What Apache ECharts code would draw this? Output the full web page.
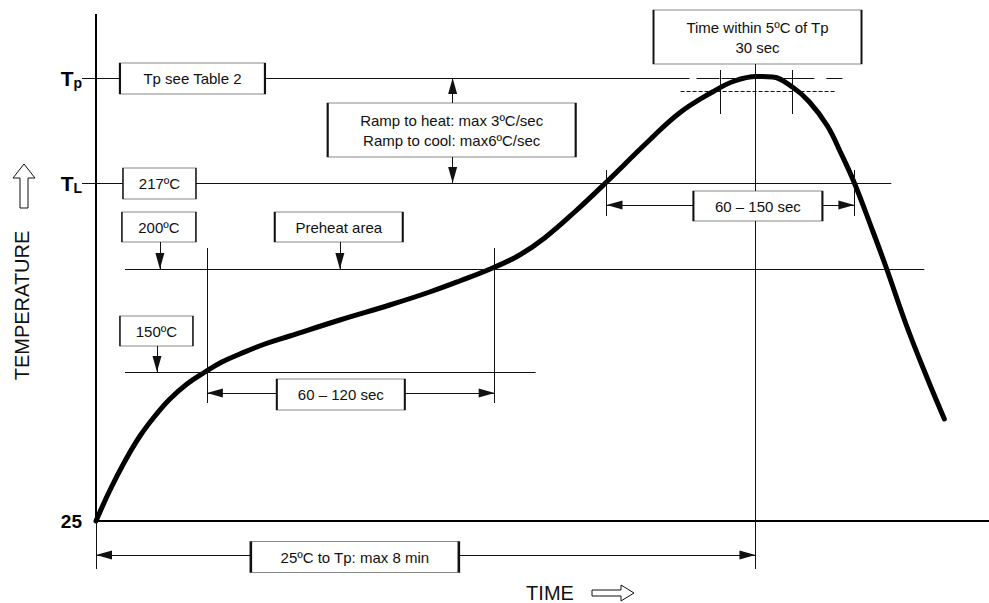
<!DOCTYPE html>
<html>
<head>
<meta charset="utf-8">
<script src="https://cdn.jsdelivr.net/npm/echarts@6/dist/echarts.min.js"></script>
<style>
html,body{margin:0;padding:0;background:#fff;}
#chart{width:989px;height:603px;}
</style>
</head>
<body>
<div id="chart"></div>
<script>
// ---- Reflow profile (schematic) : time in seconds, temperature in schematic units above 25 ºC ----
const curveTime = [0, 10.2, 21.1, 32.0, 42.9, 53.8, 66.2, 79.3, 91.6, 104.7, 122.9, 141.1, 177.5, 213.8, 242.9, 264.7, 288.7, 308.4, 326.5, 348.4, 371.6, 400.7, 424.7, 448.7, 464.7, 480.7, 492.4, 506.9, 519.3, 532.4, 542.5, 552.0, 565.1, 575.3, 589.8, 604.4, 617.5];
const curveTemp = [0, 31, 60, 85, 105, 122, 137, 149, 159, 167, 177, 185, 201, 216, 229, 240, 253, 266, 283, 309, 339, 378, 408, 429, 440, 444.5, 444, 434, 419, 395, 367, 338, 291, 253, 196, 145, 102];

// temperature levels (schematic units)
const levelNames  = ['25', 'TL', 'Tp'];
const levelValues = [0, 338, 443];
const level150 = 149, level200 = 252, levelTL = 338, levelTp = 443, levelTp5 = 430;

// time marks (s)
const tPeak = 480;            // 25ºC to Tp: max 8 min
const tSoakStart = 80.7, tSoakEnd = 290.2;       // 60 – 120 sec
const tLiqStart = 371.6, tLiqEnd = 552.0;        // 60 – 150 sec
const tWithin5a = 454.5, tWithin5b = 506.9;      // within 5ºC of Tp

// annotation boxes
const boxTexts = ['Tp see Table 2', '217ºC', '200ºC', 'Preheat area', '150ºC', '60 – 120 sec',
  'Ramp to heat: max 3ºC/sec\nRamp to cool: max6ºC/sec', 'Time within 5ºC of Tp\n30 sec',
  '60 – 150 sec', '25ºC to Tp: max 8 min'];
const boxTime = [70.2, 46.2, 45.8, 176.7, 44.0, 178.2, 258.9, 481.5, 481.8, 188.4];
const boxTemp = [442.5, 337.5, 294, 294, 190, 126.5, 391, 484, 315, -36];

// ---- styling ----
const boxSizes = [[145,31],[73,31],[74,30],[128,30],[73,30],[128,31],[248,54],[208,54],[129,30],[208,31]];
const FONT = '"Liberation Sans", Arial, Helvetica, sans-serif';
const INK = '#111';

function end(c, arrow) {
  return arrow
    ? {coord: c, symbol: 'triangle', symbolSize: [9, 16], symbolOffset: [0, 8]}
    : {coord: c, symbol: 'none'};
}
function seg(a, b, opt) {
  opt = opt || {};
  const s = end(a, opt.from);
  const e = end(b, opt.to);
  if (opt.style) s.lineStyle = opt.style;
  return [s, e];
}
const thin = {type: 'solid', width: 1, color: INK};

const guides = [
  // y axis line
  seg([0, 0], [0, 507], {style: {type: 'solid', width: 2, color: '#000'}}),
  // Tp level
  seg([0, levelTp], [432, levelTp]),
  seg([437.1, levelTp], [453.8, levelTp]),
  seg([455.3, levelTp], [522.9, levelTp]),
  seg([531.6, levelTp], [543.3, levelTp]),
  seg([425.5, levelTp5], [538.9, levelTp5], {style: {type: [4, 2], width: 1, color: INK}}),
  seg([tWithin5a, 407], [tWithin5a, 451]),
  seg([tWithin5b, 407], [tWithin5b, 451]),
  seg([tPeak, 457], [tPeak, -48]),
  // TL level
  seg([0, levelTL], [578.9, levelTL]),
  // 200 and 150 levels
  seg([21.1, level200], [602.9, level200]),
  seg([21.1, level150], [320, level150]),
  // soak zone
  seg([tSoakStart, 273], [tSoakStart, 118]),
  seg([tSoakEnd, 273], [tSoakEnd, 118]),
  seg([tSoakStart, 128], [tSoakEnd, 128], {from: true, to: true}),
  seg([46.5, 279], [46.5, level200], {to: true}),
  seg([177.5, 279], [177.5, level200], {to: true}),
  seg([44.4, 175], [44.4, level150], {to: true}),
  // ramp arrows
  seg([259.6, 418], [259.6, levelTp], {to: true}),
  seg([259.6, 364], [259.6, levelTL], {to: true}),
  // liquidus zone
  seg([tLiqStart, 305], [tLiqStart, 351]),
  seg([tLiqEnd, 305], [tLiqEnd, 351]),
  seg([tLiqStart, 316], [tLiqEnd, 316], {from: true, to: true}),
  // 25 to Tp
  seg([0, 0], [0, -48]),
  seg([0, -34], [tPeak, -34], {from: true, to: true})
];

const chart = echarts.init(document.getElementById('chart'), null, {renderer: 'svg'});
chart.setOption({
  animation: false,
  backgroundColor: '#fff',
  grid: {left: 96, right: 0, top: 0, bottom: 0, containLabel: false, outerBoundsMode: 'none'},
  xAxis: {
    type: 'value', min: 0, max: 650,
    axisLine: {show: true, onZero: true, lineStyle: {color: '#000', width: 2}},
    axisTick: {show: false}, axisLabel: {show: false}, splitLine: {show: false}
  },
  yAxis: {
    type: 'value', min: -82, max: 521,
    name: 'TEMPERATURE', nameLocation: 'middle', nameRotate: 90, nameGap: 64,
    nameTextStyle: {fontSize: 20, color: INK, fontFamily: FONT, padding: [0, 8, 0, 0]},
    axisLine: {show: false},
    splitLine: {show: false},
    axisTick: {show: true, customValues: [levelTL, levelTp], length: 14, lineStyle: {color: INK, width: 1}},
    axisLabel: {
      show: true, customValues: levelValues, margin: 14,
      formatter: function (v) {
        const i = levelValues.indexOf(v);
        const n = i >= 0 ? levelNames[i] : '';
        if (n.length === 2 && n[0] === 'T') return '{t|T}{s|' + n[1] + '}';
        return '{n|' + n + '}';
      },
      rich: {
        t: {fontSize: 21, fontWeight: 'bold', color: '#000', fontFamily: FONT},
        s: {fontSize: 14, fontWeight: 'bold', color: '#000', fontFamily: FONT, padding: [10, 0, 0, 0]},
        n: {fontSize: 19, fontWeight: 'bold', color: '#000', fontFamily: FONT}
      }
    }
  },
  series: [
    {
      name: 'profile', type: 'line', z: 3,
      data: curveTime.map((t, i) => [t, curveTemp[i]]),
      smooth: 0.4, symbol: 'none', color: '#000',
      lineStyle: {color: '#000', width: 5, cap: 'round'},
      emphasis: {disabled: true}, silent: true,
      markLine: {
        silent: true, z: 4, animation: false,
        symbol: ['none', 'none'],
        label: {show: false},
        lineStyle: thin,
        emphasis: {disabled: true},
        data: guides
      }
    },
    {
      name: 'boxes', type: 'scatter', z: 10, clip: false, silent: true,
      symbol: 'rect',
      data: boxTexts.map((txt, i) => ({name: txt, value: [boxTime[i], boxTemp[i]], symbolSize: boxSizes[i]})),
      itemStyle: {color: '#fff', borderColor: INK, borderWidth: 1, opacity: 1},
      label: {show: true, position: 'inside', formatter: '{b}', color: INK, fontSize: 15, lineHeight: 20, fontFamily: FONT},
      emphasis: {disabled: true}
    }
  ],
  graphic: [
    {type: 'polygon', silent: true, shape: {points: [[24,164],[35,178],[28,178],[28,208],[20,208],[20,178],[13,178]]},
     style: {fill: '#fff', stroke: INK, lineWidth: 1}},
    {type: 'text', silent: true, x: 550, y: 593,
     style: {text: 'TIME', fill: INK, font: '20px ' + FONT, align: 'center', verticalAlign: 'middle'}},
    {type: 'polygon', silent: true, shape: {points: [[592,590],[621,590],[621,585],[634,593],[621,601],[621,596],[592,596]]},
     style: {fill: '#fff', stroke: INK, lineWidth: 1}}
  ]
});
</script>
</body>
</html>
